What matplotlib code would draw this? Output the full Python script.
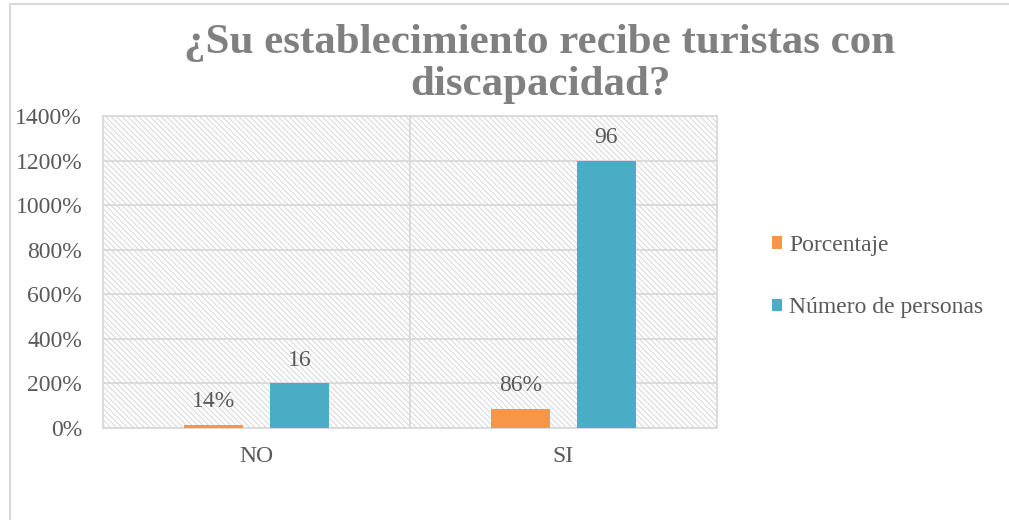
import matplotlib
matplotlib.use("Agg")
import matplotlib.pyplot as plt
from matplotlib.patches import Rectangle
from matplotlib.lines import Line2D
import numpy as np

categories = ["NO", "SI"]
porcentaje = [0.14, 0.86]
porcentaje_labels = ["14%", "86%"]
personas_plot = [2.0, 12.0]          # plotted height (as shown on the % axis)
personas_labels = ["16", "96"]
yticks = [0, 2, 4, 6, 8, 10, 12, 14]
ytick_labels = ["0%", "200%", "400%", "600%", "800%", "1000%", "1200%", "1400%"]

orange = "#F79646"
teal = "#4BACC6"
gray_text = "#595959"
grid = "#D9D9D9"

plt.rcParams['font.family'] = ['Liberation Serif', 'DejaVu Serif']
plt.rcParams['hatch.linewidth'] = 0.7
plt.rcParams['hatch.color'] = "#D6D6D6"

fig = plt.figure(figsize=(10.09, 5.2), dpi=100)
# outer chart border (top and left only visible)
fig.add_artist(Line2D([10/1009, 1], [1 - 4/520, 1 - 4/520], transform=fig.transFigure,
                      color=grid, linewidth=1.5))
fig.add_artist(Line2D([10/1009, 10/1009], [0, 1 - 4/520], transform=fig.transFigure,
                      color=grid, linewidth=1.5))

ax = fig.add_axes([103/1009, 1 - 428/520, (717-103)/1009, (428-116)/520])
ax.set_xlim(-0.5, 1.5)
ax.set_ylim(0, 14)

# hatched plot-area background
ax.add_patch(Rectangle((0, 0), 1, 1, transform=ax.transAxes, facecolor="white",
                       edgecolor="#D6D6D6", hatch="\\\\\\\\\\\\", linewidth=0, zorder=0))

x = np.arange(len(categories))
w = 0.195
off = 0.14
b1 = ax.bar(x - off, porcentaje, w, color=orange, zorder=3, label="Porcentaje")
b2 = ax.bar(x + off, personas_plot, w, color=teal, zorder=3, label="Número de personas")

for xi, v, lab in zip(x - off, porcentaje, porcentaje_labels):
    ax.annotate(lab, (xi, v), xytext=(0, 9), textcoords="offset points", ha="center",
                va="bottom", fontsize=17, color=gray_text, zorder=4)
for xi, v, lab in zip(x + off, personas_plot, personas_labels):
    ax.annotate(lab, (xi, v), xytext=(0, 9), textcoords="offset points", ha="center",
                va="bottom", fontsize=17, color=gray_text, zorder=4)

ax.set_yticks(yticks)
ax.set_yticklabels(ytick_labels, fontsize=17, color=gray_text)
ax.set_xticks(x)
ax.set_xticklabels(categories, fontsize=17, color=gray_text)
ax.tick_params(axis="both", length=0)
ax.tick_params(axis="y", pad=15)
ax.tick_params(axis="x", pad=13)

for yv in yticks:
    ax.axhline(yv, color=grid, linewidth=1.3, zorder=1)
ax.axvline(0.5, color=grid, linewidth=1.3, zorder=1)
for s in ax.spines.values():
    s.set_color(grid)
    s.set_linewidth(1.3)

fig.text(540/1009, 1 - 43/520, "¿Su establecimiento recibe turistas con", ha="center", va="center",
         fontsize=31, fontweight="bold", color="#808080")
fig.text(540/1009, 1 - 85/520, "discapacidad?", ha="center", va="center",
         fontsize=31, fontweight="bold", color="#808080")

leg = fig.legend(handles=[b1, b2], loc="upper left", bbox_to_anchor=(772/1009, 1 - 235/520),
                 frameon=False, fontsize=17, labelcolor=gray_text, handlelength=0.42,
                 handleheight=0.42, handletextpad=0.3, labelspacing=1.75, borderpad=0,
                 borderaxespad=0)

fig.savefig("out.png", dpi=100)
